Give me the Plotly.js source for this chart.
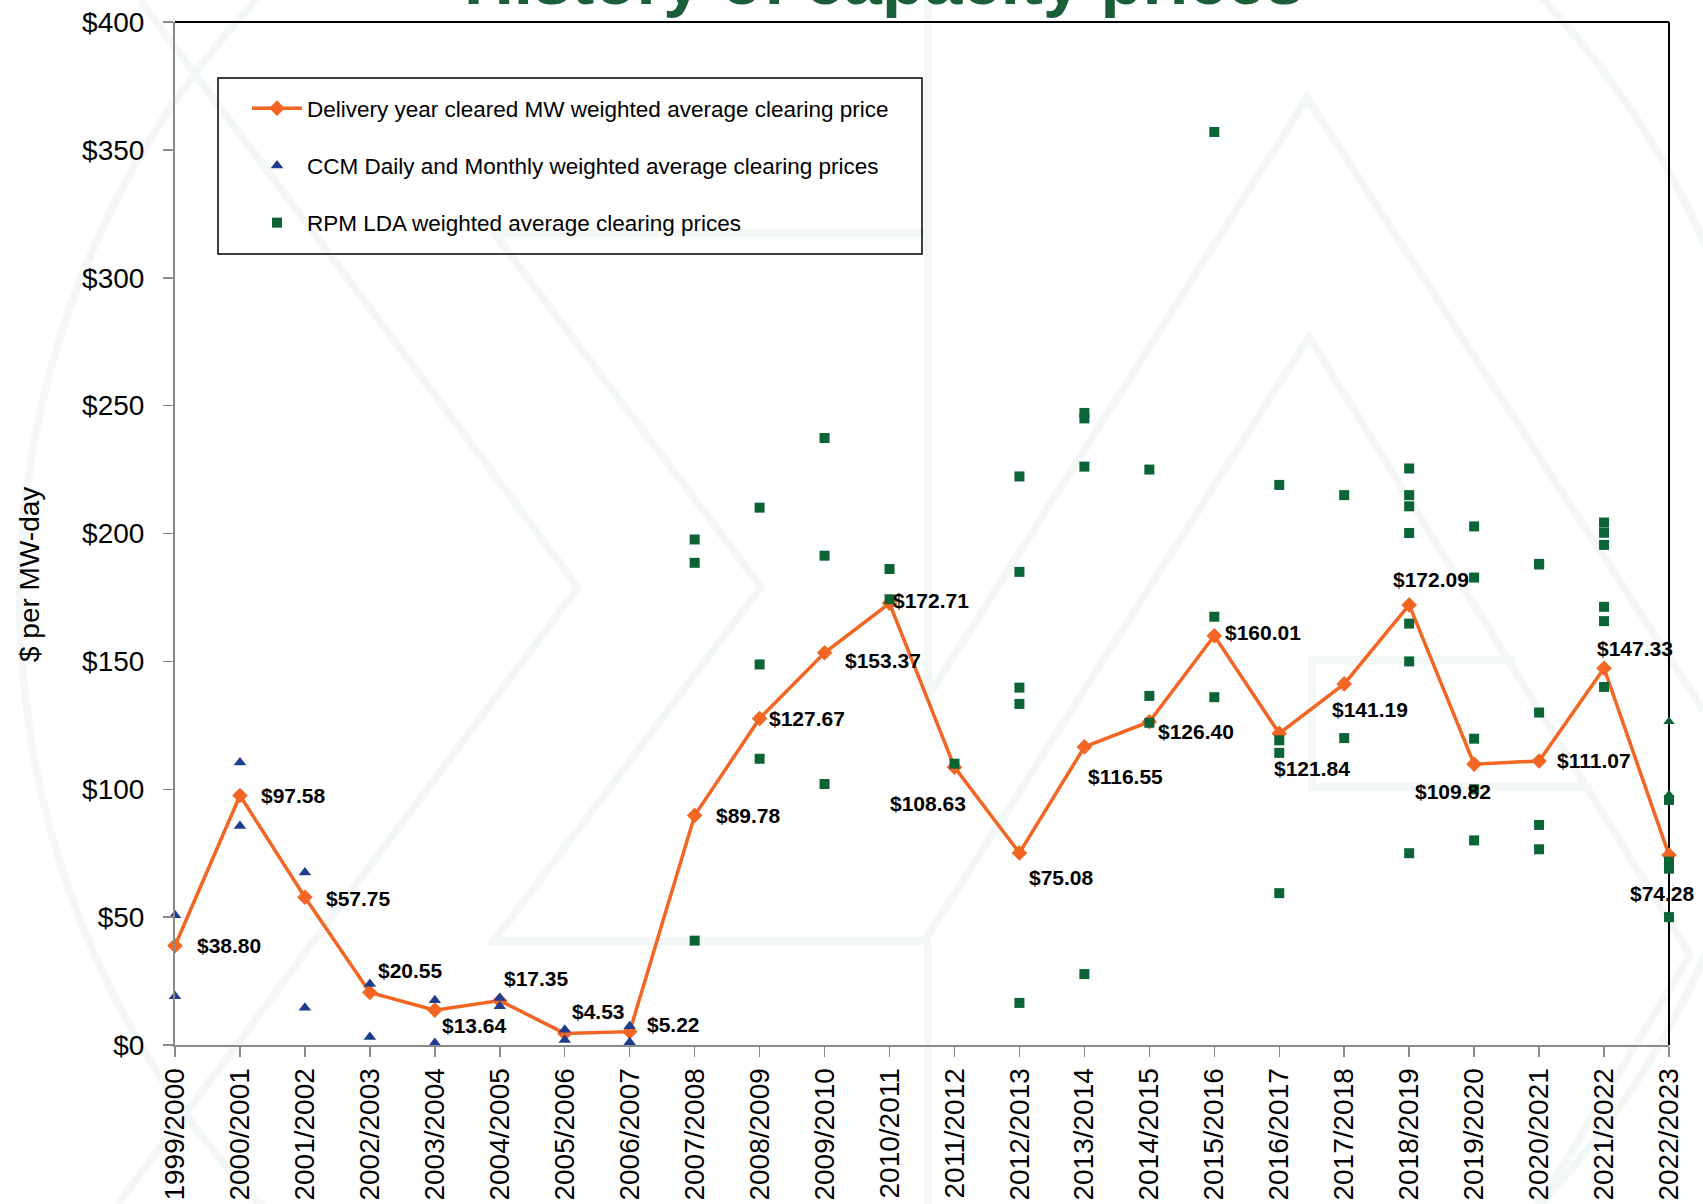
<!DOCTYPE html>
<html><head><meta charset="utf-8">
<script src="https://cdn.plot.ly/plotly-3.0.1.min.js"></script>
<style>html,body{margin:0;padding:0;background:#fff;} #chart{width:1703px;height:1204px;}</style>
</head><body><div id="chart"></div>
<script>
// ---------- data ----------
const deliveryYears = ['1999/2000','2000/2001','2001/2002','2002/2003','2003/2004','2004/2005','2005/2006','2006/2007','2007/2008','2008/2009','2009/2010','2010/2011','2011/2012','2012/2013','2013/2014','2014/2015','2015/2016','2016/2017','2017/2018','2018/2019','2019/2020','2020/2021','2021/2022','2022/2023'];
const clearingPrices = [38.80,97.58,57.75,20.55,13.64,17.35,4.53,5.22,89.78,127.67,153.37,172.71,108.63,75.08,116.55,126.40,160.01,121.84,141.19,172.09,109.82,111.07,147.33,74.28];

const ccmYears = ['1999/2000','1999/2000','2000/2001','2000/2001','2001/2002','2001/2002','2002/2003','2002/2003','2003/2004','2003/2004','2004/2005','2004/2005','2005/2006','2005/2006','2006/2007','2006/2007'];
const ccmPrices = [50.7,19.1,110.5,85.6,67.4,14.6,23.9,3.1,17.5,0.8,18.4,15.2,6.0,2.0,7.3,1.1];

const rpmYears = ['2007/2008','2007/2008','2007/2008',
  '2008/2009','2008/2009','2008/2009',
  '2009/2010','2009/2010','2009/2010',
  '2010/2011','2010/2011',
  '2011/2012',
  '2012/2013','2012/2013','2012/2013','2012/2013','2012/2013',
  '2013/2014','2013/2014','2013/2014','2013/2014',
  '2014/2015','2014/2015','2014/2015',
  '2015/2016','2015/2016','2015/2016',
  '2016/2017','2016/2017','2016/2017','2016/2017',
  '2017/2018','2017/2018',
  '2018/2019','2018/2019','2018/2019','2018/2019','2018/2019','2018/2019','2018/2019',
  '2019/2020','2019/2020','2019/2020','2019/2020','2019/2020',
  '2020/2021','2020/2021','2020/2021','2020/2021','2020/2021',
  '2021/2022','2021/2022','2021/2022','2021/2022','2021/2022','2021/2022',
  '2022/2023','2022/2023','2022/2023','2022/2023','2022/2023','2022/2023'];
const rpmPrices = [197.67,188.54,40.80,
  210.11,148.80,111.92,
  237.33,191.32,102.04,
  186.12,174.29,
  110.00,
  222.30,185.00,139.73,133.37,16.46,
  247.14,245.00,226.15,27.73,
  225.00,136.50,125.99,
  357.00,167.46,136.00,
  219.00,119.13,114.23,59.37,
  215.00,120.00,
  225.42,215.00,210.63,200.21,164.77,149.98,75.00,
  202.77,182.77,119.77,100.00,80.00,
  188.12,187.87,130.00,86.04,76.53,
  204.29,200.30,195.55,171.33,165.73,140.00,
  126.50,97.86,95.79,71.69,68.96,50.00];

const yTickValues = [0,50,100,150,200,250,300,350,400];

// ---------- styling config (not data) ----------
const rpmTrianglePoints = [56,57];
const labelShift = [[19.5,0],[19.5,0],[19.5,-1],[6.5,21.7],[4.8,-15],[2.7,21.7],[5,21.7],[15,7.6],
  [19.5,0],[7,0],[18,-7.6],[1,3],[-66,-36],[7.8,-25],[1.5,-30],[7,-9.8],[8.7,3],[-7.6,-34.7],
  [-14,-26],[-18,25],[-61,-27],[16,0],[-8.7,19.5],[-41,-38]];

const FONT = 'Liberation Sans, Arial, Helvetica, sans-serif';
const ORANGE = '#F26522', NAVY = '#1F3C8F', GREEN = '#0A6436', WM = '#F3F7F5';

// plot area in page pixels, used only for decorative background shapes
const PL = 175, PW = 1494, PT = 22, PH = 1023;
const px = x => (x - PL) / PW;
const py = y => 1 - (y - PT) / PH;
const path = pts => 'M ' + pts.map(p => px(p[0]).toFixed(4) + ',' + py(p[1]).toFixed(4)).join(' L ');
const wmLines = [
  [[928,0],[928,697]],
  [[928,941],[928,1204]],
  [[928,233],[494,233],[761,587],[494,941],[928,941]],
  [[140,0],[578,587],[118,1204]],
  [[928,697],[1307,98],[1703,710]],
  [[925,940],[1309,337],[1690,955],[1540,1204]],
  [[1515,660],[1312,660],[1312,787],[1592,787]]
];
const wmShapes = wmLines.map(p => ({type:'path', xref:'paper', yref:'paper', path: path(p),
  line:{color:WM, width:8}, layer:'below'}));
wmShapes.push({type:'circle', xref:'paper', yref:'paper', x0:px(20), x1:px(1780), y0:py(1480), y1:py(-280),
  line:{color:WM, width:8}, layer:'below'});

const rpmSymbols = rpmPrices.map((v,i) => rpmTrianglePoints.includes(i) ? 'triangle-up' : 'square');

const traces = [
  {type:'scatter', mode:'lines+markers', name:'Delivery year cleared MW weighted average clearing price',
   x: deliveryYears, y: clearingPrices, legendgroup:'a', cliponaxis:false,
   line:{color:ORANGE, width:3.5}, marker:{symbol:'diamond', size:12, color:ORANGE}},
  {type:'scatter', mode:'markers', name:'CCM Daily and Monthly weighted average clearing prices',
   x: ccmYears, y: ccmPrices, legendgroup:'b', cliponaxis:false,
   marker:{symbol:'triangle-up', size:11, color:NAVY}},
  {type:'scatter', mode:'markers', name:'RPM LDA weighted average clearing prices',
   x: rpmYears, y: rpmPrices, legendgroup:'c', cliponaxis:false,
   marker:{symbol:rpmSymbols, size:10, color:GREEN}}
];

const annotations = clearingPrices.map((v,i) => ({
  x: deliveryYears[i], y: v, xref:'x', yref:'y', showarrow:false,
  text: '$' + v.toFixed(2), xanchor:'left', yanchor:'middle',
  xshift: labelShift[i][0], yshift: labelShift[i][1],
  font:{family:FONT, size:21, color:'#000', weight:'bold'}
}));
annotations.push({xref:'paper', yref:'paper', x:0, y:py(575), xshift:-146, xanchor:'center', yanchor:'middle',
  text:'$ per MW-day', textangle:-90, showarrow:false, font:{family:FONT, size:28, color:'#000'}});

const layout = {
  width:1703, height:1204,
  margin:{l:175, r:34, t:22, b:159, pad:0},
  paper_bgcolor:'#fff', plot_bgcolor:'rgba(0,0,0,0)',
  title:{text:'<b>History of capacity prices</b>', xref:'container', yref:'container',
    x:0.519, xanchor:'center', y:1-4/1204, yanchor:'bottom',
    font:{family:FONT, size:69, color:'#1B5E3A'}},
  showlegend:true,
  legend:{x:px(247), y:py(87), xanchor:'left', yanchor:'top', bgcolor:'rgba(0,0,0,0)',
    borderwidth:0, font:{family:FONT, size:22.5, color:'#000'},
    tracegroupgap:25, itemwidth:50, traceorder:'grouped'},
  xaxis:{type:'category', categoryorder:'array', categoryarray:deliveryYears,
    range:[0, deliveryYears.length-1], tickangle:-90,
    showline:true, linecolor:'#8A8A8A', linewidth:2, ticks:'outside', ticklen:10, tickwidth:1.5, tickcolor:'#8A8A8A',
    showgrid:false, zeroline:false, ticklabelstandoff:0,
    tickfont:{family:FONT, size:28, color:'#000'}},
  yaxis:{range:[0,400], tickvals:yTickValues, ticktext:yTickValues.map(v=>'$'+v),
    showline:true, linecolor:'#8A8A8A', linewidth:2, ticks:'outside', ticklen:10, tickwidth:1.5, tickcolor:'#8A8A8A',
    showgrid:false, zeroline:false, ticklabelstandoff:13,
    tickfont:{family:FONT, size:28, color:'#000'}},
  shapes: wmShapes.concat([
    {type:'rect', xref:'paper', yref:'paper', x0:px(218), x1:px(922), y0:py(254), y1:py(78),
     line:{color:'#000', width:1.5}, fillcolor:'rgba(0,0,0,0)', layer:'below'},
    {type:'line', xref:'paper', yref:'paper', x0:0, x1:1, y0:1, y1:1, line:{color:'#000', width:2}, layer:'below'},
    {type:'line', xref:'paper', yref:'paper', x0:1, x1:1, y0:0, y1:1, line:{color:'#000', width:2}, layer:'below'}
  ]),
  annotations: annotations
};

Plotly.newPlot('chart', traces, layout, {displayModeBar:false, staticPlot:true});
</script>
</body></html>
